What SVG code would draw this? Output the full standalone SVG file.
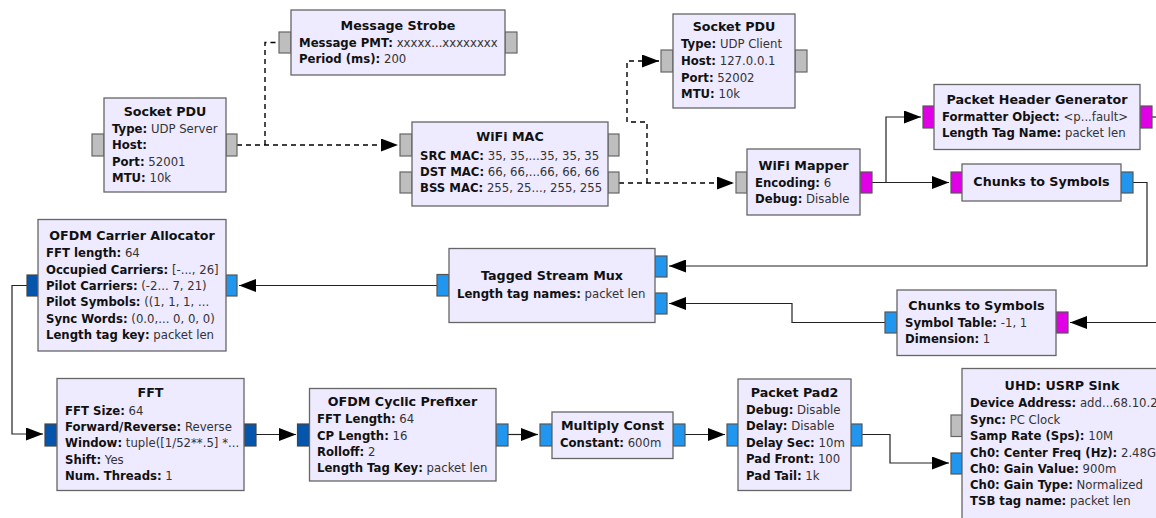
<svg xmlns="http://www.w3.org/2000/svg" width="1156" height="518" viewBox="0 0 1156 518">
<defs>
<style>
.box{fill:#EEEAFF;stroke:#666;stroke-width:1.3}
.pg{fill:#BEBEBE;stroke:#666;stroke-width:1.2}
.pm{fill:#E100E6;stroke:#555;stroke-width:1.2}
.pb{fill:#2196EE;stroke:#555;stroke-width:1.2}
.pd{fill:#0455AB;stroke:#444;stroke-width:1.2}
.t{font-family:"DejaVu Sans","Liberation Sans",sans-serif;font-size:12.7px;font-weight:bold;fill:#111;text-anchor:middle}
.p{font-family:"DejaVu Sans","Liberation Sans",sans-serif;font-size:11.7px;fill:#333}
.k{font-weight:bold;fill:#111}
.w{fill:none;stroke:#222;stroke-width:1.2}
.d{fill:none;stroke:#000;stroke-width:1.4;stroke-dasharray:5 4}
</style>
<marker id="ar" viewBox="0 0 17 13" refX="17" refY="6.5" markerWidth="17" markerHeight="13" markerUnits="userSpaceOnUse" orient="auto">
<path d="M0,0 L17,6.5 L0,13 Z" fill="#000"/>
</marker>
</defs>

<g id="connectors">
<path class="d" d="M237,145 H398" marker-end="url(#ar)"/>
<path class="d" d="M265,145 V42.5 H279"/>
<path class="d" d="M619,183 H734" marker-end="url(#ar)"/>
<path class="d" d="M647,183 V122 H627 V61 H659" marker-end="url(#ar)"/>
<path class="w" d="M872,182.5 H886 V117 H921" marker-end="url(#ar)"/>
<path class="w" d="M886,182.5 H949" marker-end="url(#ar)"/>
<path class="w" d="M1133,182.5 H1147 V266 H669" marker-end="url(#ar)"/>
<path class="w" d="M1152,117 H1158"/>
<path class="w" d="M1158,322.5 H1070" marker-end="url(#ar)"/>
<path class="w" d="M885,322.5 H792 V303.5 H669" marker-end="url(#ar)"/>
<path class="w" d="M437,285.5 H239" marker-end="url(#ar)"/>
<path class="w" d="M27,285.5 H12 V434 H43" marker-end="url(#ar)"/>
<path class="w" d="M256,434.5 H296" marker-end="url(#ar)"/>
<path class="w" d="M508,434.5 H538" marker-end="url(#ar)"/>
<path class="w" d="M685,434.5 H725" marker-end="url(#ar)"/>
<path class="w" d="M862,434.5 H890 V463 H949" marker-end="url(#ar)"/>
</g>

<g id="message_strobe">
<rect class="pg" x="279" y="32" width="12" height="21"/>
<rect class="pg" x="505" y="32" width="12" height="21"/>
<rect class="box" x="291" y="10" width="214" height="65"/>
<text class="t" x="398" y="29.5">Message Strobe</text>
<text class="p" x="299" y="47"><tspan class="k">Message PMT:</tspan> xxxxx...xxxxxxxx</text>
<text class="p" x="299" y="63"><tspan class="k">Period (ms):</tspan> 200</text>
</g>

<g id="socket_pdu_server">
<rect class="pg" x="92" y="134" width="12" height="22"/>
<rect class="pg" x="226" y="134" width="11" height="22"/>
<rect class="box" x="104" y="98" width="122" height="94"/>
<text class="t" x="165" y="115.5">Socket PDU</text>
<text class="p" x="112" y="132.5"><tspan class="k">Type:</tspan> UDP Server</text>
<text class="p" x="112" y="149"><tspan class="k">Host:</tspan></text>
<text class="p" x="112" y="166"><tspan class="k">Port:</tspan> 52001</text>
<text class="p" x="112" y="182"><tspan class="k">MTU:</tspan> 10k</text>
</g>

<g id="wifi_mac">
<rect class="pg" x="400" y="134" width="12" height="22"/>
<rect class="pg" x="400" y="172" width="12" height="21"/>
<rect class="pg" x="608" y="134" width="11" height="22"/>
<rect class="pg" x="608" y="172" width="11" height="21"/>
<rect class="box" x="412" y="122" width="196" height="84"/>
<text class="t" x="510" y="141">WiFi MAC</text>
<text class="p" x="420" y="159.5"><tspan class="k">SRC MAC:</tspan> 35, 35,...35, 35, 35</text>
<text class="p" x="420" y="176"><tspan class="k">DST MAC:</tspan> 66, 66,...66, 66, 66</text>
<text class="p" x="420" y="192"><tspan class="k">BSS MAC:</tspan> 255, 25..., 255, 255</text>
</g>

<g id="socket_pdu_client">
<rect class="pg" x="661" y="50" width="12" height="22"/>
<rect class="pg" x="795" y="50" width="12" height="22"/>
<rect class="box" x="673" y="14" width="122" height="94"/>
<text class="t" x="734" y="31">Socket PDU</text>
<text class="p" x="681" y="48.3"><tspan class="k">Type:</tspan> UDP Client</text>
<text class="p" x="681" y="65"><tspan class="k">Host:</tspan> 127.0.0.1</text>
<text class="p" x="681" y="81.6"><tspan class="k">Port:</tspan> 52002</text>
<text class="p" x="681" y="97.6"><tspan class="k">MTU:</tspan> 10k</text>
</g>

<g id="wifi_mapper">
<rect class="pg" x="736" y="172" width="11" height="21"/>
<rect class="pm" x="860" y="172" width="12" height="21"/>
<rect class="box" x="747" y="149" width="113" height="66"/>
<text class="t" x="803.5" y="169.5">WiFi Mapper</text>
<text class="p" x="755" y="186.5"><tspan class="k">Encoding:</tspan> 6</text>
<text class="p" x="755" y="202.5"><tspan class="k">Debug:</tspan> Disable</text>
</g>

<g id="packet_header_generator">
<rect class="pm" x="923" y="106" width="11" height="22"/>
<rect class="pm" x="1140" y="106" width="12" height="22"/>
<rect class="box" x="934" y="84.5" width="206" height="65"/>
<text class="t" x="1037" y="103.8">Packet Header Generator</text>
<text class="p" x="942" y="121"><tspan class="k">Formatter Object:</tspan> &lt;p...fault&gt;</text>
<text class="p" x="942" y="137"><tspan class="k">Length Tag Name:</tspan> packet len</text>
</g>

<g id="chunks_to_symbols_1">
<rect class="pm" x="951" y="172" width="11" height="21"/>
<rect class="pb" x="1121" y="172" width="12" height="21"/>
<rect class="box" x="962" y="164" width="159" height="37"/>
<text class="t" x="1041.5" y="185.5">Chunks to Symbols</text>
</g>

<g id="ofdm_carrier_allocator">
<rect class="pd" x="27" y="275" width="11" height="21"/>
<rect class="pb" x="226" y="275" width="11" height="21"/>
<rect class="box" x="38" y="219.5" width="188" height="131.5"/>
<text class="t" x="132" y="239.5">OFDM Carrier Allocator</text>
<text class="p" x="46" y="257"><tspan class="k">FFT length:</tspan> 64</text>
<text class="p" x="46" y="273.6"><tspan class="k">Occupied Carriers:</tspan> [-..., 26]</text>
<text class="p" x="46" y="290.3"><tspan class="k">Pilot Carriers:</tspan> (-2... 7, 21)</text>
<text class="p" x="46" y="306"><tspan class="k">Pilot Symbols:</tspan> ((1, 1, 1, ...</text>
<text class="p" x="46" y="322.6"><tspan class="k">Sync Words:</tspan> (0.0,... 0, 0, 0)</text>
<text class="p" x="46" y="338.6"><tspan class="k">Length tag key:</tspan> packet len</text>
</g>

<g id="tagged_stream_mux">
<rect class="pb" x="437" y="274.5" width="12" height="21.5"/>
<rect class="pb" x="655" y="256" width="12" height="21"/>
<rect class="pb" x="655" y="293" width="12" height="21"/>
<rect class="box" x="449" y="248.5" width="206" height="74"/>
<text class="t" x="552" y="280">Tagged Stream Mux</text>
<text class="p" x="457" y="297.6"><tspan class="k">Length tag names:</tspan> packet len</text>
</g>

<g id="chunks_to_symbols_2">
<rect class="pb" x="885" y="312" width="12" height="21"/>
<rect class="pm" x="1056" y="312" width="12" height="21"/>
<rect class="box" x="897" y="290" width="159" height="65.5"/>
<text class="t" x="976.5" y="309.5">Chunks to Symbols</text>
<text class="p" x="905" y="326.6"><tspan class="k">Symbol Table:</tspan> -1, 1</text>
<text class="p" x="905" y="342.6"><tspan class="k">Dimension:</tspan> 1</text>
</g>

<g id="fft">
<rect class="pd" x="45" y="424" width="12" height="22"/>
<rect class="pd" x="244" y="424" width="12" height="22"/>
<rect class="box" x="57" y="378.5" width="187" height="112"/>
<text class="t" x="150.5" y="397">FFT</text>
<text class="p" x="65" y="415"><tspan class="k">FFT Size:</tspan> 64</text>
<text class="p" x="65" y="431"><tspan class="k">Forward/Reverse:</tspan> Reverse</text>
<text class="p" x="65" y="447"><tspan class="k">Window:</tspan> tuple([1/52**.5] *...</text>
<text class="p" x="65" y="463.6"><tspan class="k">Shift:</tspan> Yes</text>
<text class="p" x="65" y="480.3"><tspan class="k">Num. Threads:</tspan> 1</text>
</g>

<g id="ofdm_cyclic_prefixer">
<rect class="pd" x="297.5" y="424" width="12" height="22"/>
<rect class="pb" x="496" y="424" width="12" height="22"/>
<rect class="box" x="309.5" y="388.5" width="186.5" height="92.5"/>
<text class="t" x="402.5" y="406">OFDM Cyclic Prefixer</text>
<text class="p" x="317" y="423.3"><tspan class="k">FFT Length:</tspan> 64</text>
<text class="p" x="317" y="440"><tspan class="k">CP Length:</tspan> 16</text>
<text class="p" x="317" y="455.8"><tspan class="k">Rolloff:</tspan> 2</text>
<text class="p" x="317" y="472"><tspan class="k">Length Tag Key:</tspan> packet len</text>
</g>

<g id="multiply_const">
<rect class="pb" x="540" y="424" width="12" height="22"/>
<rect class="pb" x="673" y="424" width="12" height="22"/>
<rect class="box" x="552" y="412" width="121" height="46.5"/>
<text class="t" x="612.5" y="429.5">Multiply Const</text>
<text class="p" x="560" y="446.6"><tspan class="k">Constant:</tspan> 600m</text>
</g>

<g id="packet_pad2">
<rect class="pb" x="727" y="424" width="11" height="22"/>
<rect class="pb" x="851" y="424" width="11" height="22"/>
<rect class="box" x="738" y="379" width="113" height="111.5"/>
<text class="t" x="794.5" y="397">Packet Pad2</text>
<text class="p" x="746" y="414.3"><tspan class="k">Debug:</tspan> Disable</text>
<text class="p" x="746" y="430.3"><tspan class="k">Delay:</tspan> Disable</text>
<text class="p" x="746" y="446.6"><tspan class="k">Delay Sec:</tspan> 10m</text>
<text class="p" x="746" y="463.3"><tspan class="k">Pad Front:</tspan> 100</text>
<text class="p" x="746" y="480"><tspan class="k">Pad Tail:</tspan> 1k</text>
</g>

<g id="uhd_usrp_sink">
<rect class="pg" x="951" y="415" width="11" height="21.5"/>
<rect class="pb" x="951" y="453" width="11" height="21"/>
<rect class="box" x="962" y="368.5" width="200" height="155"/>
<text class="t" x="1062" y="389.5">UHD: USRP Sink</text>
<text class="p" x="970" y="407"><tspan class="k">Device Address:</tspan> add...68.10.2</text>
<text class="p" x="970" y="423.6"><tspan class="k">Sync:</tspan> PC Clock</text>
<text class="p" x="970" y="440.3"><tspan class="k">Samp Rate (Sps):</tspan> 10M</text>
<text class="p" x="970" y="456.6"><tspan class="k">Ch0: Center Freq (Hz):</tspan> 2.48G</text>
<text class="p" x="970" y="472.6"><tspan class="k">Ch0: Gain Value:</tspan> 900m</text>
<text class="p" x="970" y="489.3"><tspan class="k">Ch0: Gain Type:</tspan> Normalized</text>
<text class="p" x="970" y="505.3"><tspan class="k">TSB tag name:</tspan> packet len</text>
</g>
</svg>
